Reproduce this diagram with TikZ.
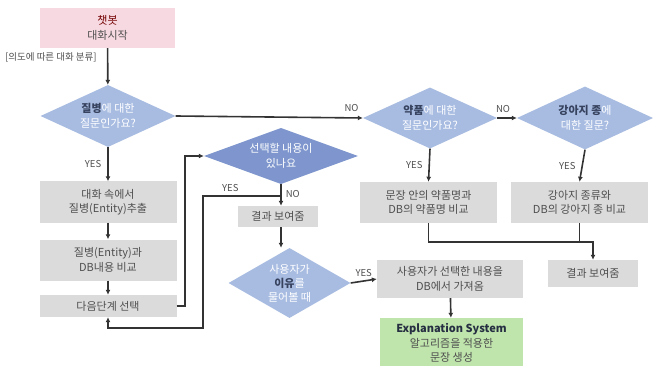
\documentclass[tikz,border=0pt]{standalone}
\usepackage{fontspec}
\setmainfont{Noto Sans CJK KR}
\usetikzlibrary{shapes.geometric,arrows.meta}
\definecolor{pinkbg}{HTML}{F7D9E1}
\definecolor{graybg}{HTML}{DBDBDB}
\definecolor{lblue}{HTML}{A8BCE2}
\definecolor{dblue}{HTML}{7E96CD}
\definecolor{greenbg}{HTML}{BFE4AC}
\definecolor{txtg}{HTML}{4F4F4F}
\definecolor{dk}{HTML}{36425E}
\definecolor{ln}{HTML}{333333}
\tikzset{
  every node/.style={font=\fontsize{11}{14.5}\selectfont, align=center, inner sep=0pt},
  boxg/.style={fill=graybg, text=txtg, minimum width=137pt, minimum height=41pt},
  dia/.style={shape=diamond, fill=lblue, text=white, aspect=2, inner sep=0pt},
  arr/.style={draw=ln, line width=1.6pt, -{Latex[length=5pt,width=5pt]}},
  lnn/.style={draw=ln, line width=1.6pt},
  lab/.style={font=\fontsize{9.5}{11}\selectfont, text=txtg}
}
\begin{document}
\begin{tikzpicture}[x=1pt,y=-1pt]
\useasboundingbox (0,0) rectangle (661,366);
\fill[white] (0,0) rectangle (661,366);
% nodes
\node[fill=pinkbg, text=txtg, minimum width=135pt, minimum height=40pt] (start) at (107.5,28) {\color{red!45!black}챗봇\\대화시작};
\node[lab, anchor=west] (intent) at (5,57) {[의도에 따른 대화 분류]};
\node[dia, minimum width=135pt, minimum height=62pt] (d1) at (108,116) {{\color{dk}\bfseries 질병}에 대한\\질문인가요?};
\node[dia, minimum width=134pt, minimum height=61pt] (d2) at (430,118) {{\color{dk}\bfseries 약품}에 대한\\질문인가요?};
\node[dia, minimum width=136pt, minimum height=63pt] (d3) at (585,118) {{\color{dk}\bfseries 강아지 종}에\\대한 질문?};
\node[boxg] (b1) at (108,202) {대화 속에서\\질병(Entity)추출};
\node[boxg] (b2) at (108,260) {질병(Entity)과\\DB내용 비교};
\node[boxg, minimum height=22pt] (b3) at (108,306) {다음단계 선택};
\node[dia, fill=dblue, minimum width=154pt, minimum height=56pt] (d4) at (281,156) {선택할 내용이\\있나요};
\node[boxg, minimum width=80pt, minimum height=21pt] (r1) at (278,216.5) {결과 보여줌};
\node[dia, minimum width=122pt, minimum height=70pt] (d5) at (289.5,283) {};
\node[text=white, font=\fontsize{11}{14}\selectfont] (d5t) at (d5) {사용자가\\{\color{dk}\bfseries 이유}를\\물어볼 때};
\node[boxg, minimum width=146pt, minimum height=38pt] (fetch) at (450,279) {사용자가 선택한 내용을\\DB에서 가져옴};
\node[fill=greenbg, text=txtg, minimum width=143pt, minimum height=50pt] (expl) at (451.5,343) {{\color{dk!70!black}\bfseries Explanation System}\\알고리즘을 적용한\\문장 생성};
\node[boxg] (b4) at (428.5,202.5) {문장 안의 약품명과\\DB의 약품명 비교};
\node[boxg] (b5) at (579.5,202.5) {강아지 종류와\\DB의 강아지 종 비교};
\node[boxg, minimum width=90pt, minimum height=27pt] (r2) at (593,273.5) {결과 보여줌};
% connectors
\draw[arr] (start) -- (d1);
\draw[arr] (d1.east) -- node[lab, pos=0.94, above=5pt]{NO} (d2.west);
\draw[arr] (d2.east) -- node[lab, pos=0.3, above=5pt]{NO} (d3.west);
\draw[arr] (d1.south) -- node[lab, left=6pt]{YES} (b1.north);
\draw[arr] (b1) -- (b2);
\draw[arr] (b2) -- (b3);
\draw[arr] (b3.east) -- ++(8,0) |- (d4.west);
\draw[arr] (d4.south) -- node[lab, pos=0.45, right=4pt]{NO} (d4.south |- r1.north);
\coordinate (yj) at (d4.south |- 0,196);
\draw[arr] (yj) -- node[lab, pos=0.65, above=4pt]{YES} ++(-78,0) -- ++(0,132) -| (b3.south);
\draw[arr] (d4.south |- r1.south) -- (d4.south |- d5.north);
\draw[arr] (d5.east) -- node[lab, above=4pt]{YES} (fetch.west);
\draw[arr] (fetch) -- (expl);
\draw[arr] (d2.south) -- node[lab, left=6pt]{YES} (b4.north);
\draw[arr] (d3.south) -- node[lab, left=6pt]{YES} (b5.north);
\coordinate (mj) at (b5.south |- 0,242);
\draw[arr] (b4.south) |- (mj) -| (r2.north);
\draw[lnn] (b5.south) -- (mj);
\end{tikzpicture}
\end{document}
